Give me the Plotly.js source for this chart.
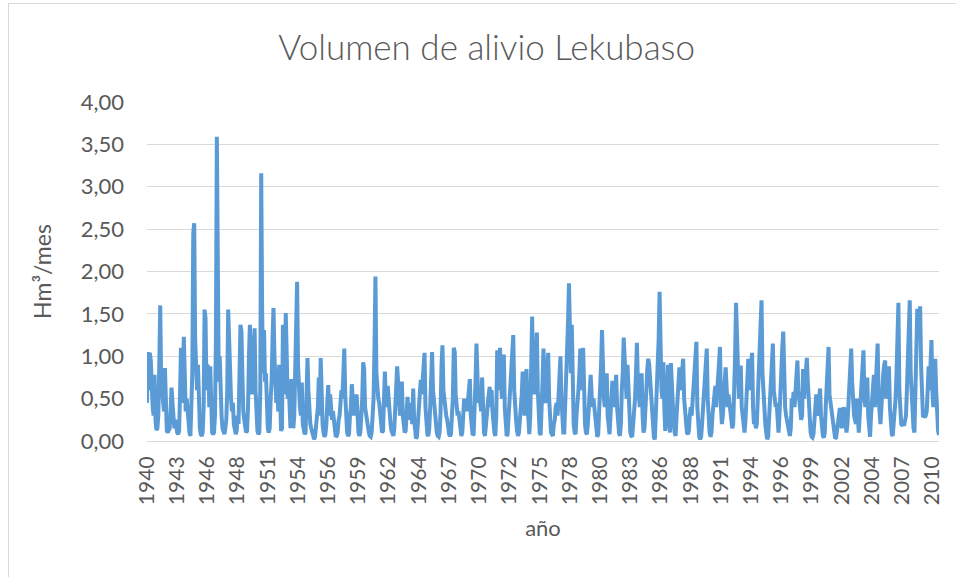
<!DOCTYPE html>
<html>
<head>
<meta charset="utf-8">
<script src="https://cdn.plot.ly/plotly-3.0.1.min.js"></script>
<style>
  html, body { margin: 0; padding: 0; background: #ffffff; }
  #chart { width: 956px; height: 577px; position: absolute; left: 0; top: 0; }
  #frame { position: absolute; left: 8px; top: 3px; width: 1000px; height: 700px;
           border-left: 1px solid #d9d9d9; border-top: 1px solid #d9d9d9; pointer-events: none; }
</style>
</head>
<body>
<div id="chart"></div>
<div id="frame"></div>
<script>
// Monthly values (Hm3/mes), hydrological years Oct..Sep
const v1940s = [
  0.45,1.05,0.60,1.04,0.95,0.50,0.40,0.30,0.78,0.25,0.13,0.15,
  0.30,0.90,1.60,0.70,0.55,0.40,0.35,0.86,0.30,0.12,0.10,0.12,
  0.15,0.35,0.63,0.45,0.30,0.15,0.25,0.12,0.10,0.08,0.12,0.55,
  1.10,0.45,0.70,1.23,0.60,0.35,0.50,0.30,0.15,0.10,0.06,0.40,
  0.80,2.45,2.57,1.20,0.85,0.60,0.90,0.30,0.15,0.08,0.06,0.10,
  0.40,1.55,1.45,0.60,0.90,0.85,0.40,0.88,0.25,0.10,0.08,0.10,
  0.30,1.20,3.59,1.00,0.70,1.00,0.40,0.30,0.15,0.10,0.08,0.15,
  0.25,0.60,1.55,1.20,0.60,0.50,0.35,0.45,0.20,0.10,0.08,0.12,
  0.30,0.20,0.70,1.37,1.30,0.60,0.35,0.25,0.15,0.10,0.12,0.40,
  1.00,1.37,0.90,0.55,0.80,1.10,1.33,0.60,0.30,0.12,0.08,0.10
];
const v1950s = [
  0.60,3.16,1.50,0.80,1.31,0.70,0.80,0.40,0.15,0.10,0.15,0.50,
  0.70,1.20,1.57,1.00,0.60,0.45,0.80,0.35,0.90,0.30,0.12,0.15,
  1.37,0.55,0.70,1.51,0.80,0.50,0.70,0.30,0.15,0.73,0.25,0.15,
  0.30,0.80,1.20,1.88,0.90,0.50,0.40,0.30,0.69,0.20,0.10,0.08,
  0.10,0.40,0.98,0.60,0.25,0.20,0.15,0.10,0.05,0.02,0.05,0.20,
  0.25,0.40,0.75,0.30,0.98,0.40,0.20,0.10,0.05,0.08,0.20,0.45,
  0.66,0.30,0.55,0.40,0.25,0.35,0.20,0.10,0.05,0.06,0.10,0.25,
  0.30,0.45,0.60,0.50,0.80,1.09,0.55,0.25,0.10,0.06,0.08,0.30,
  0.40,0.67,0.45,0.30,0.50,0.35,0.55,0.25,0.10,0.06,0.10,0.30,
  0.50,0.93,0.85,0.40,0.30,0.25,0.20,0.10,0.06,0.05,0.10,0.25
];
const v1960s = [
  0.50,1.10,1.94,0.80,0.55,0.50,0.45,0.30,0.15,0.10,0.12,0.40,
  0.82,0.50,0.40,0.65,0.45,0.30,0.20,0.12,0.08,0.06,0.15,0.50,
  0.60,0.88,0.70,0.45,0.30,0.50,0.70,0.30,0.15,0.10,0.12,0.40,
  0.52,0.30,0.45,0.25,0.40,0.20,0.62,0.25,0.08,0.03,0.05,0.20,
  0.30,0.50,0.72,0.55,0.70,0.85,1.04,0.40,0.15,0.08,0.06,0.15,
  0.40,0.75,1.05,0.60,0.45,0.30,0.20,0.10,0.06,0.05,0.10,0.35,
  0.90,1.13,0.60,0.45,0.35,0.30,0.25,0.15,0.08,0.06,0.08,0.30,
  0.50,1.10,1.05,0.55,0.40,0.30,0.35,0.20,0.10,0.06,0.10,0.35,
  0.50,0.40,0.45,0.35,0.50,0.60,0.73,0.30,0.12,0.07,0.08,0.30,
  0.70,1.15,0.90,0.45,0.55,0.40,0.35,0.75,0.25,0.10,0.06,0.15
];
const v1970s = [
  0.30,0.45,0.55,0.64,0.40,0.60,0.35,0.20,0.10,0.06,0.30,1.07,
  0.60,0.90,1.10,0.70,0.50,0.60,1.02,0.40,0.12,0.06,0.08,0.30,
  0.40,0.60,0.80,1.00,1.25,0.60,0.35,0.25,0.12,0.06,0.10,0.35,
  0.40,0.55,0.82,0.60,0.30,0.50,0.85,0.45,0.15,0.08,0.30,0.90,
  1.47,0.80,0.55,0.70,1.00,1.28,0.60,0.25,0.10,0.07,0.30,0.70,
  1.09,0.60,0.45,0.50,0.80,1.04,0.50,0.20,0.10,0.08,0.06,0.20,
  0.25,0.40,0.45,0.30,0.50,0.70,1.00,0.50,0.20,0.10,0.10,0.40,
  0.60,0.90,1.40,1.86,1.00,0.80,1.37,0.50,0.20,0.10,0.08,0.30,
  0.40,0.60,0.80,1.09,0.70,0.60,1.10,0.50,0.20,0.10,0.08,0.20,
  0.40,0.60,0.78,0.55,0.40,0.50,0.35,0.20,0.10,0.05,0.08,0.30
];
const v1980s = [
  0.50,0.90,1.31,0.70,0.50,0.40,0.60,0.80,0.30,0.10,0.08,0.30,
  0.50,0.71,0.50,0.40,0.60,0.78,0.40,0.20,0.10,0.06,0.20,0.60,
  0.80,1.22,0.90,0.60,0.50,0.90,0.60,0.30,0.10,0.06,0.05,0.20,
  0.30,0.50,0.80,1.16,0.70,0.50,0.40,0.60,0.80,0.30,0.10,0.15,
  0.30,0.60,0.85,0.97,0.90,0.70,0.50,0.30,0.10,0.04,0.02,0.30,
  0.40,0.70,1.20,1.76,0.90,0.60,0.50,0.93,0.40,0.12,0.30,0.90,
  0.90,0.30,0.10,0.92,0.60,0.35,0.20,0.10,0.06,0.30,0.55,0.87,
  0.87,0.60,0.70,0.85,0.97,0.50,0.30,0.15,0.10,0.08,0.12,0.30,
  0.40,0.30,0.50,0.70,0.90,1.10,1.17,0.40,0.15,0.05,0.02,0.05,
  0.20,0.35,0.50,0.80,0.90,1.09,0.50,0.20,0.10,0.05,0.10,0.30
];
const v1990s = [
  0.40,0.50,0.65,0.40,0.60,0.80,0.90,1.11,0.40,0.20,0.30,0.60,
  0.70,0.87,0.50,0.40,0.55,0.45,0.30,0.20,0.15,0.20,0.50,1.00,
  1.63,1.10,0.60,0.50,0.70,0.89,0.40,0.30,0.15,0.10,0.25,0.60,
  0.70,0.97,0.80,0.60,0.90,1.04,0.40,0.20,0.25,0.15,0.20,0.50,
  0.60,0.90,1.30,1.66,0.80,0.50,0.30,0.20,0.10,0.02,0.05,0.30,
  0.40,0.70,1.00,1.15,0.60,0.45,0.40,0.45,0.20,0.10,0.30,0.70,
  0.90,1.10,1.29,0.60,0.40,0.30,0.25,0.15,0.10,0.06,0.15,0.50,
  0.45,0.58,0.40,0.55,0.80,0.95,0.60,0.50,0.30,0.25,0.30,0.85,
  0.50,0.70,0.85,0.98,0.70,0.40,0.20,0.10,0.05,0.04,0.08,0.25,
  0.40,0.55,0.35,0.30,0.50,0.62,0.30,0.12,0.06,0.04,0.10,0.40
];
const v2000s = [
  0.60,0.90,1.11,0.55,0.45,0.40,0.30,0.15,0.08,0.03,0.04,0.15,
  0.20,0.30,0.39,0.25,0.15,0.30,0.40,0.35,0.20,0.10,0.20,0.50,
  0.60,0.90,1.09,0.70,0.40,0.30,0.25,0.20,0.50,0.20,0.10,0.30,
  0.50,0.80,1.00,1.07,0.50,0.40,0.60,0.75,0.30,0.08,0.05,0.30,
  0.50,0.65,0.78,0.40,0.60,0.90,1.15,0.50,0.30,0.20,0.40,0.70,
  0.80,0.90,0.95,0.50,0.60,0.75,0.88,0.40,0.15,0.08,0.06,0.20,
  0.30,0.50,0.80,1.20,1.63,0.60,0.25,0.20,0.18,0.20,0.18,0.25,
  0.30,0.60,1.00,1.40,1.66,0.80,0.50,0.30,0.15,0.10,0.50,1.20,
  1.56,1.20,1.40,1.59,0.90,0.50,0.30,0.30,0.28,0.30,0.35,0.60,
  0.88,0.60,0.90,1.19,0.60,0.40,0.70,0.97,0.60,0.30,0.12,0.07
];
const tickYears = ["1940","1943","1946","1948","1951","1954","1956","1959","1962","1964",
  "1967","1970","1972","1975","1978","1980","1983","1986","1988","1991","1994","1996",
  "1999","2002","2004","2007","2010"];
const tickEvery = 32; // category label interval (months)

const values = [].concat(v1940s, v1950s, v1960s, v1970s, v1980s, v1990s, v2000s);
// category labels: consecutive months starting October 1940
const categories = values.map((_, i) => {
  const m = (9 + i) % 12, y = 1940 + Math.floor((9 + i) / 12);
  return y + "-" + String(m + 1).padStart(2, "0");
});
const tickvals = tickYears.map((_, k) => categories[k * tickEvery]);

const txt = "#595959";
const font = "Lato, 'Open Sans', sans-serif";

Plotly.newPlot("chart", [{
  type: "scatter", mode: "lines",
  x: categories, y: values,
  line: { color: "#5B9BD5", width: 4 },
  hoverinfo: "x+y"
}], {
  width: 956, height: 577,
  margin: { l: 147, r: 17, t: 102, b: 136 },
  paper_bgcolor: "rgba(0,0,0,0)", plot_bgcolor: "rgba(0,0,0,0)",
  separators: ",.",
  showlegend: false,
  font: { family: font, color: txt },
  title: {
    text: "Volumen de alivio Lekubaso",
    font: { family: font, size: 35, color: txt, weight: 300 },
    xref: "container", yref: "container", x: 0.509, y: 0.917,
    xanchor: "center", yanchor: "middle"
  },
  xaxis: {
    type: "category", range: [0, values.length - 1],
    tickmode: "array", tickvals: tickvals, ticktext: tickYears,
    tickangle: -90, tickfont: { family: font, size: 21, color: txt },
    ticklabelstandoff: 6,
    showgrid: false, showline: true, linecolor: "#d9d9d9", linewidth: 1,
    ticks: "", zeroline: false,
    title: { text: "año", font: { family: font, size: 22, color: txt }, standoff: 16 }
  },
  yaxis: {
    range: [0, 4], dtick: 0.5, tick0: 0, tickformat: ".2f",
    tickfont: { family: font, size: 22, color: txt },
    showgrid: true, gridcolor: "#d9d9d9", gridwidth: 1,
    zeroline: false, showline: false, ticks: "",
    ticklabelstandoff: 22,
    title: { text: "Hm³/mes", font: { family: font, size: 23, color: txt }, standoff: 22 }
  }
}, { displayModeBar: false, staticPlot: true });
</script>
</body>
</html>
